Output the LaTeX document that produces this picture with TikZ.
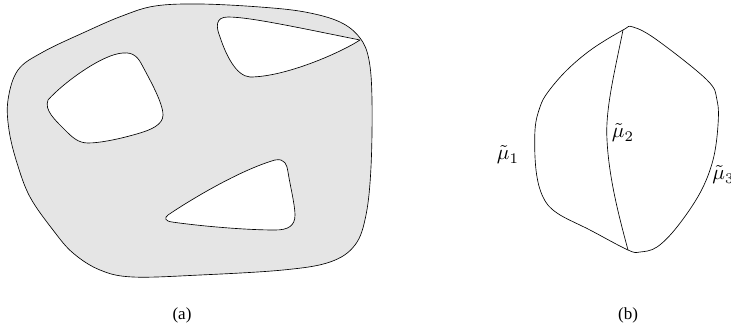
\documentclass[tikz,border=0pt]{standalone}
\usepackage[no-math]{fontspec}
\setmainfont{Liberation Serif}
\begin{document}
\begin{tikzpicture}[x=1pt,y=-1pt,
  edge/.style={draw=black,line width=0.65pt,line join=round},
  region/.style={edge,fill=black!10},
  hole/.style={edge,fill=white},
  caption/.style={font=\fontsize{17}{20}\selectfont,inner sep=0pt},
  mulabel/.style={scale=2.1,inner sep=0pt}]
\useasboundingbox (0,0) rectangle (731,333);
\clip (0,0) rectangle (731,333);
% (a) region with three holes
\path[region] plot[smooth cycle,tension=0.6] coordinates {
  (200,4) (260,7) (305,12) (340,22) (360,38) (369,60) (372,100) (371,167)
  (366,215) (355,245) (330,262) (283,270) (200,275) (133,277) (100,270)
  (73,253) (53,230) (30,197) (17,163) (9,130) (8,100) (18,70) (43,52)
  (85,32) (122,16) (155,6)};
\coordinate (cnr) at (360,40);
\path[hole] (cnr) .. controls (300,28) and (250,17) .. (228,17)
  .. controls (215,17) and (216,27) .. (220,37)
  .. controls (226,55) and (236,76) .. (250,77)
  .. controls (285,77) and (340,53) .. (cnr) -- cycle;
\path[hole] (48,100) .. controls (62,84) and (102,54) .. (123,53)
  .. controls (133,52) and (138,57) .. (142,65)
  .. controls (150,80) and (163,103) .. (163,115)
  .. controls (163,125) and (150,130) .. (140,133)
  .. controls (120,139) and (100,143) .. (88,143)
  .. controls (78,143) and (72,137) .. (65,130)
  .. controls (55,120) and (44,110) .. (48,100) -- cycle;
\path[hole] (168,215) .. controls (190,200) and (240,170) .. (275,160)
  .. controls (285,158) and (287,165) .. (288,172)
  .. controls (290,185) and (295,205) .. (295,215)
  .. controls (295,226) and (288,230) .. (275,230)
  .. controls (245,230) and (200,226) .. (172,222)
  .. controls (165,221) and (164,218) .. (168,215) -- cycle;
% (b)
\coordinate (top) at (623,30);
\coordinate (bot) at (628,250);
\path[edge] plot[smooth cycle,tension=0.6] coordinates {
  (623,30) (633,27) (657,40) (707,80) (717,100) (718,125)
  (713,160) (700,193) (677,227) (657,247) (640,252) (628,250)
  (590,230) (557,213) (543,197) (536,170) (535,130) (540,107)
  (548,92) (567,70) (592,49)};
\draw[edge] (top) .. controls (615,70) and (605,110) .. (607,140)
  .. controls (609,180) and (620,220) .. (bot);
\node[mulabel] (m1) at (508,155) {$\tilde{\mu}_1$};
\node[mulabel] (m2) at (623,133) {$\tilde{\mu}_2$};
\node[mulabel,anchor=west] (m3) at (712,175) {$\tilde{\mu}_3$};
\node[caption] (ca) at (182,315) {(a)};
\node[caption] (cb) at (628,315) {(b)};
\end{tikzpicture}
\end{document}
